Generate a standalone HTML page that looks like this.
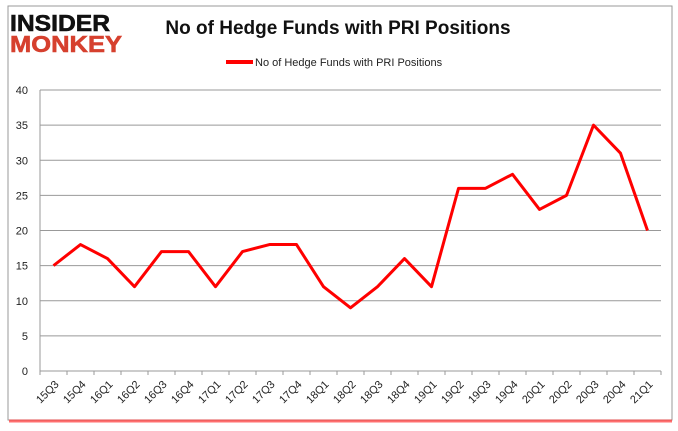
<!DOCTYPE html>
<html><head><meta charset="utf-8"><style>
body{margin:0;background:#fff;font-family:"Liberation Sans",sans-serif}
#wrap{position:relative;width:678px;height:431px;overflow:hidden}
</style></head><body>
<div id="wrap">
<svg id="chart" width="678" height="431"></svg>
</div>
<script>
const categories=["15Q3","15Q4","16Q1","16Q2","16Q3","16Q4","17Q1","17Q2","17Q3","17Q4","18Q1","18Q2","18Q3","18Q4","19Q1","19Q2","19Q3","19Q4","20Q1","20Q2","20Q3","20Q4","21Q1"];
const values=[15,18,16,12,17,17,12,17,18,18,12,9,12,16,12,26,26,28,23,25,35,31,20];
const yTicks=[0,5,10,15,20,25,30,35,40];
const NS="http://www.w3.org/2000/svg";
const svg=document.getElementById('chart');
const L=40,R=661,T=90,B=371;
const step=(R-L)/categories.length;
function xPos(i){return L+step*(i+0.5);}
function yPos(v){return B-(v/40)*(B-T);}
function mk(t,a,p){const e=document.createElementNS(NS,t);for(const k in a)e.setAttribute(k,a[k]);(p||svg).appendChild(e);return e;}
mk('rect',{x:8,y:6,width:664,height:414,fill:'#fff',stroke:'#999','stroke-width':1});
mk('line',{x1:9,y1:421,x2:672,y2:421,stroke:'#f33','stroke-width':3,opacity:0.7});
const logo1=mk('text',{x:10,y:31,'font-size':23,'font-weight':'bold',fill:'#111',stroke:'#111','stroke-width':0.6,textLength:100,lengthAdjust:'spacingAndGlyphs'});logo1.textContent='INSIDER';

const logo2=mk('text',{x:10,y:52,'font-size':23,'font-weight':'bold',fill:'#d6402e',stroke:'#d6402e','stroke-width':0.6,textLength:112,lengthAdjust:'spacingAndGlyphs'});logo2.textContent='MONKEY';

const title=mk('text',{x:338,y:34,'text-anchor':'middle','font-size':19,'font-weight':'bold',fill:'#111'});title.textContent='No of Hedge Funds with PRI Positions';

const lg=mk('g',{});
mk('line',{x1:226,y1:62,x2:253,y2:62,stroke:'#f00','stroke-width':4},lg);
const lt=mk('text',{x:255,y:66,'font-size':11,fill:'#222'},lg);lt.textContent='No of Hedge Funds with PRI Positions';
yTicks.forEach(v=>{
 const g=mk('line',{x1:L,y1:yPos(v),x2:R,y2:yPos(v),stroke:'#999','stroke-width':1});
 
 const t=mk('text',{x:28,y:yPos(v)+4,'text-anchor':'end','font-size':11,fill:'#222'});t.textContent=v;
 
});
mk('line',{x1:L,y1:T,x2:L,y2:B,stroke:'#999'});
categories.forEach((c,i)=>{
 const tx=L+step*i;
 mk('line',{x1:tx,y1:B,x2:tx,y2:B+4,stroke:'#999'});
 const x=xPos(i),y=B+14;
 const t=mk('text',{x:x+6,y:y,'text-anchor':'end','font-size':11,fill:'#222',transform:`rotate(-45 ${x+6} ${y})`});t.textContent=c;
 
});
mk('line',{x1:R,y1:B,x2:R,y2:B+4,stroke:'#999'});
const pts=values.map((v,i)=>xPos(i)+','+yPos(v)).join(' ');
const line=mk('polyline',{points:pts,fill:'none',stroke:'#f00','stroke-width':3,'stroke-linejoin':'round'});

</script>
</body></html>
